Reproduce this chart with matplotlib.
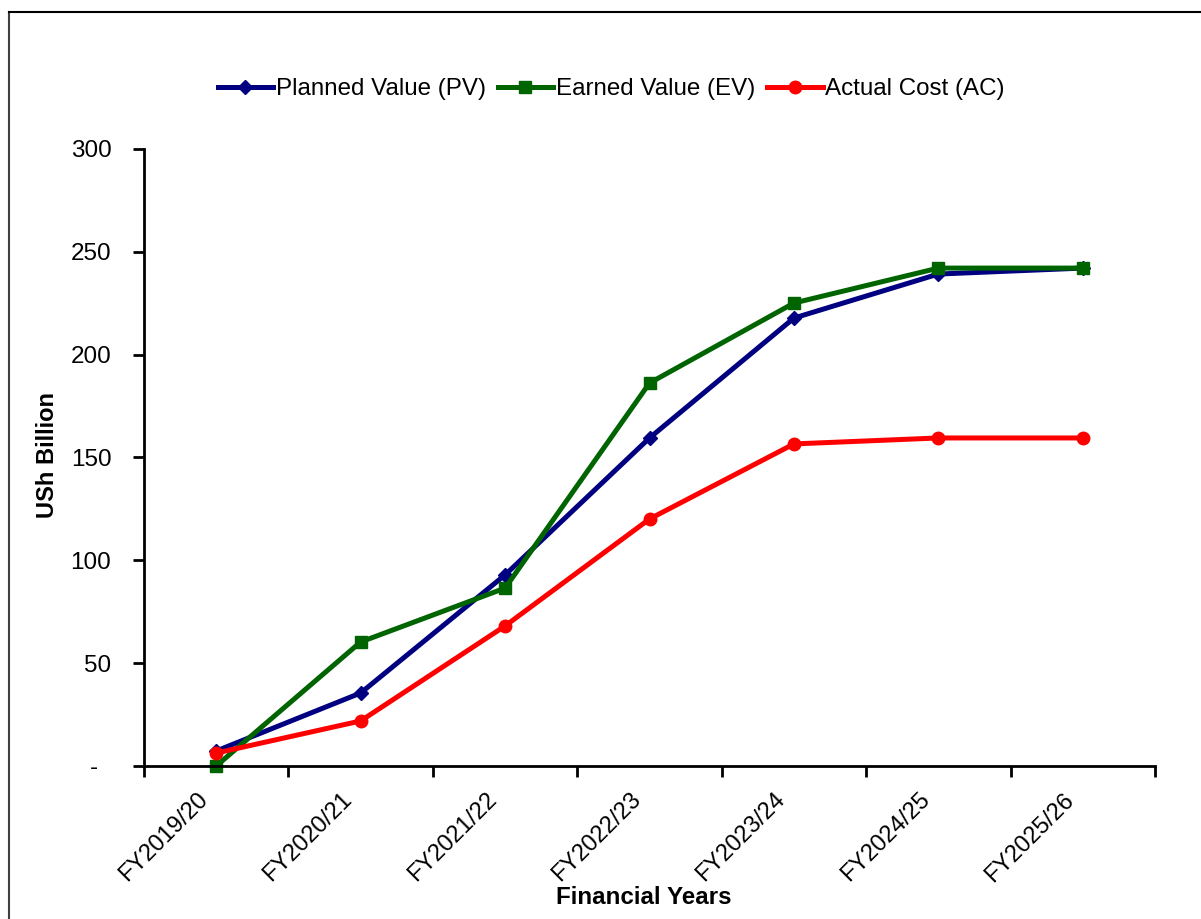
import matplotlib
matplotlib.use("Agg")
import matplotlib.pyplot as plt
from matplotlib.lines import Line2D
from matplotlib.transforms import ScaledTranslation
import numpy as np

plt.rcParams['font.family'] = ['Liberation Sans', 'DejaVu Sans']

categories = ["FY2019/20", "FY2020/21", "FY2021/22", "FY2022/23",
              "FY2023/24", "FY2024/25", "FY2025/26"]
pv = [7.3, 35.5, 92.9, 159.5, 217.8, 239.2, 242.1]
ev = [0.0, 60.3, 86.5, 186.2, 225.1, 242.1, 242.1]
ac = [6.3, 21.9, 68.1, 120.1, 156.6, 159.5, 159.5]
y_ticks = [0, 50, 100, 150, 200, 250, 300]
y_labels = ["-  ", "50", "100", "150", "200", "250", "300"]

W, H = 1201, 919
fig = plt.figure(figsize=(W / 100, H / 100), dpi=100)
ax = fig.add_axes([144 / W, 1 - 766 / H, (1155 - 144) / W, (766 - 149) / H])

x = np.arange(len(categories))
ax.plot(x, pv, color="#000080", lw=3.6, marker="D", ms=7.5, label="Planned Value (PV)")
ax.plot(x, ev, color="#006400", lw=3.6, marker="s", ms=8, label="Earned Value (EV)")
ax.plot(x, ac, color="#FF0000", lw=3.6, marker="o", ms=9, label="Actual Cost (AC)")

ax.set_xlim(-0.5, len(categories) - 0.5)
ax.set_ylim(0, 300)
ax.set_xticks(np.arange(-0.5, len(categories)))
ax.set_xticklabels([])
ax.set_xticks(x, minor=True)
ax.set_xticklabels(categories, minor=True, rotation=45, ha="right", va="center",
                   rotation_mode="anchor", fontsize=17)
ax.tick_params(axis="x", which="minor", length=0, pad=22)
ax.tick_params(axis="x", which="major", length=8, width=2, direction="out")
off = ScaledTranslation(-12 / 100, 0, fig.dpi_scale_trans)
for lab in ax.get_xticklabels(minor=True):
    lab.set_transform(lab.get_transform() + off)
ax.set_yticks(y_ticks)
ax.set_yticklabels(y_labels, fontsize=17.5)
ax.tick_params(axis="y", length=8, width=2, direction="out", pad=15.5)
for s in ["top", "right"]:
    ax.spines[s].set_visible(False)
for s in ["left", "bottom"]:
    ax.spines[s].set_linewidth(2)
for l in ax.lines:
    l.set_clip_on(False)

fig.text(47 / W, 1 - 455 / H, "USh Billion", fontsize=17, fontweight="bold",
         ha="center", va="center", rotation=90)
fig.text(644 / W, 1 - 897 / H, "Financial Years", fontsize=17.4, fontweight="bold",
         ha="center", va="center")

fig.legend(loc="center", bbox_to_anchor=(611 / W, 1 - 89 / H), ncol=3, frameon=False,
           fontsize=17.4, handlelength=2.3, handletextpad=0.1, columnspacing=0.5)

fig.add_artist(Line2D([8.5 / W, 8.5 / W], [0, 1 - 12 / H], transform=fig.transFigure,
                      color="#404040", lw=1.5))
fig.add_artist(Line2D([8.5 / W, 1], [1 - 12 / H, 1 - 12 / H], transform=fig.transFigure,
                      color="black", lw=1.5))

fig.savefig("out.png", dpi=100)
